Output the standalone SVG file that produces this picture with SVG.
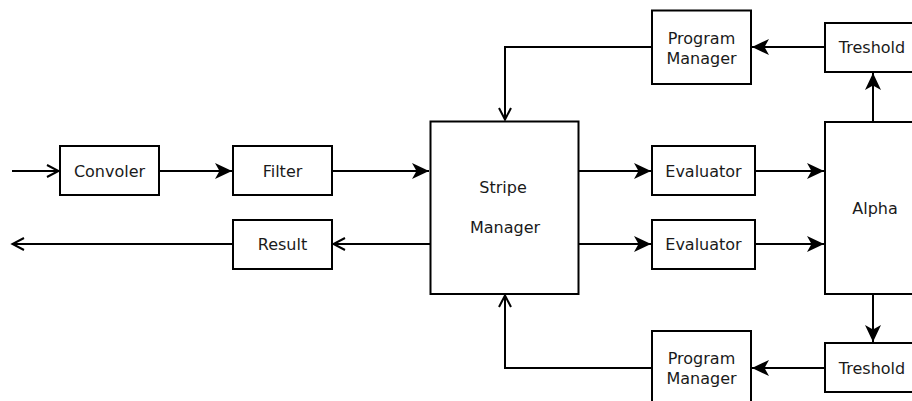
<svg xmlns="http://www.w3.org/2000/svg" width="912" height="401" viewBox="0 0 912 401">
<style>
.box{fill:#fff;stroke:#000;stroke-width:2}
.lbl{font-family:"DejaVu Sans",sans-serif;font-size:16px;fill:#1a1a1a;text-anchor:middle}
.conn{fill:none;stroke:#000;stroke-width:2}
</style>
<defs>
<marker id="filled" markerUnits="userSpaceOnUse" markerWidth="20" markerHeight="20" viewBox="-18 -10 20 20" refX="0" refY="0" orient="auto">
<path d="M0,0 L-17,-8 L-12.5,0 L-17,8 Z" fill="#000"/>
</marker>
<marker id="open" markerUnits="userSpaceOnUse" markerWidth="20" markerHeight="20" viewBox="-18 -10 20 20" refX="0" refY="0" orient="auto">
<path d="M-12,-6 L-0.5,0 L-12,6" fill="none" stroke="#000" stroke-width="2"/>
</marker>
</defs>
<rect width="912" height="401" fill="#fff"/>
<g id="connectors">
<path class="conn" d="M12,171 H59" marker-end="url(#open)"/>
<path class="conn" d="M160,171 H232" marker-end="url(#filled)"/>
<path class="conn" d="M332,171 H429" marker-end="url(#filled)"/>
<path class="conn" d="M430,244 H333" marker-end="url(#open)"/>
<path class="conn" d="M233,244 H12" marker-end="url(#open)"/>
<path class="conn" d="M579,171 H651" marker-end="url(#filled)"/>
<path class="conn" d="M579,244 H651" marker-end="url(#filled)"/>
<path class="conn" d="M755,171 H824" marker-end="url(#filled)"/>
<path class="conn" d="M755,244 H824" marker-end="url(#filled)"/>
<path class="conn" d="M873,122 V73" marker-end="url(#filled)"/>
<path class="conn" d="M873,294 V342" marker-end="url(#filled)"/>
<path class="conn" d="M825,47 H752" marker-end="url(#filled)"/>
<path class="conn" d="M825,368 H752" marker-end="url(#filled)"/>
<path class="conn" d="M652,47 H505 V120" marker-end="url(#open)"/>
<path class="conn" d="M652,368 H505 V295" marker-end="url(#open)"/>
</g>
<g id="convoler"><rect class="box" x="60" y="146" width="99" height="49"/><text class="lbl" x="109.5" y="176.5">Convoler</text></g>
<g id="filter"><rect class="box" x="233" y="146" width="99" height="49"/><text class="lbl" x="282.5" y="176.5">Filter</text></g>
<g id="result"><rect class="box" x="233" y="220" width="99" height="49"/><text class="lbl" x="282.5" y="249.5">Result</text></g>
<g id="stripe-manager"><rect class="box" x="430.5" y="121.5" width="148" height="172.5"/><text class="lbl" x="503" y="193">Stripe</text><text class="lbl" x="505" y="233">Manager</text></g>
<g id="evaluator1"><rect class="box" x="652" y="146" width="103" height="49"/><text class="lbl" x="703.5" y="176.5">Evaluator</text></g>
<g id="evaluator2"><rect class="box" x="652" y="220" width="103" height="49"/><text class="lbl" x="703.5" y="249.5">Evaluator</text></g>
<g id="alpha"><rect class="box" x="825" y="122" width="100" height="172"/><text class="lbl" x="875" y="213.5">Alpha</text></g>
<g id="treshold-top"><rect class="box" x="825" y="23" width="96" height="49"/><text class="lbl" x="872" y="52.5">Treshold</text></g>
<g id="treshold-bottom"><rect class="box" x="825" y="343" width="96" height="49"/><text class="lbl" x="872" y="373.5">Treshold</text></g>
<g id="program-manager-top"><rect class="box" x="652" y="10.5" width="99" height="73.5"/><text class="lbl" x="701.5" y="43.5">Program</text><text class="lbl" x="701.5" y="63.5">Manager</text></g>
<g id="program-manager-bottom"><rect class="box" x="652" y="331" width="99" height="75"/><text class="lbl" x="701.5" y="363.5">Program</text><text class="lbl" x="701.5" y="383.5">Manager</text></g>
</svg>
